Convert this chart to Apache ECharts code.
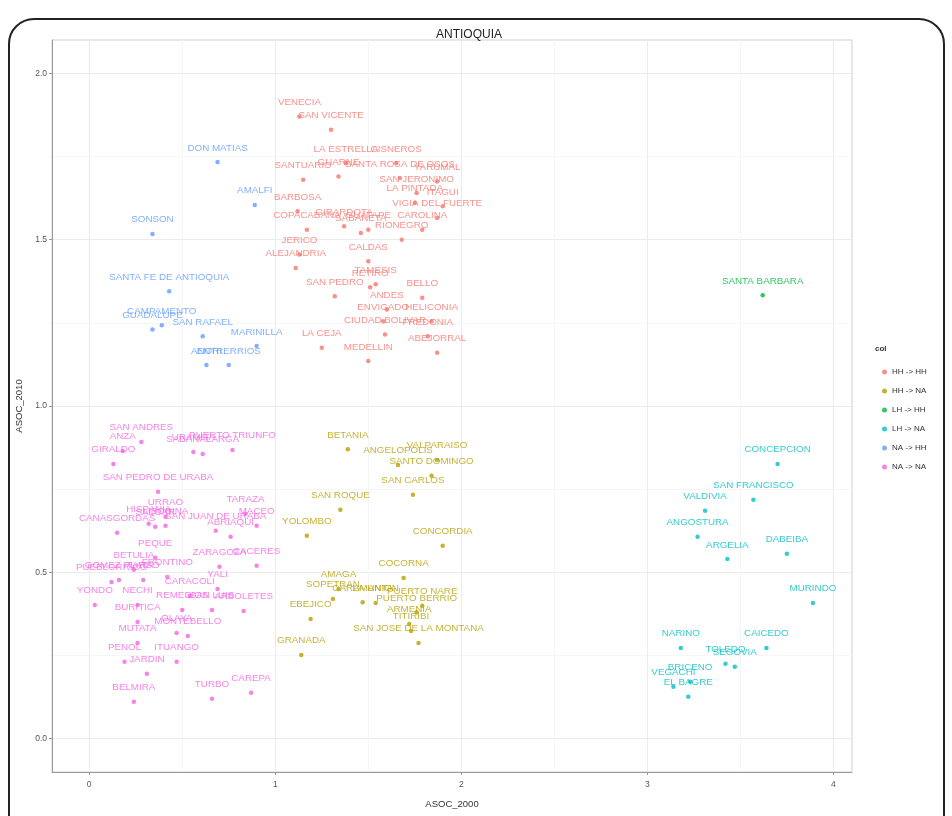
<!DOCTYPE html>
<html lang="en">
<head>
<meta charset="UTF-8">
<title>ANTIOQUIA</title>
<script src="https://cdn.jsdelivr.net/npm/echarts@6/dist/echarts.min.js"></script>
<style>
  html, body { margin: 0; padding: 0; background: #fff; }
  #frame { position: absolute; left: 8px; top: 18px; width: 937px; height: 830px; border: 2px solid #222; border-radius: 26px; box-sizing: border-box; }
  #main { position: absolute; left: 0; top: 0; width: 952px; height: 816px; }
</style>
</head>
<body>
<div id="frame"></div>
<div id="main"></div>
<script>
// [municipio, ASOC_2000, ASOC_2010]
const hhToHh = [
  ['VENECIA', 1.13, 1.87], ['SAN VICENTE', 1.30, 1.83], ['SANTUARIO', 1.15, 1.68],
  ['GUARNE', 1.34, 1.69], ['LA ESTRELLA', 1.38, 1.73], ['CISNEROS', 1.65, 1.73],
  ['SANTA ROSA DE OSOS', 1.67, 1.685], ['YARUMAL', 1.87, 1.675], ['SAN JERONIMO', 1.76, 1.64],
  ['LA PINTADA', 1.75, 1.61], ['ITAGUI', 1.90, 1.60], ['VIGIA DEL FUERTE', 1.87, 1.565],
  ['CAROLINA', 1.79, 1.53], ['RIONEGRO', 1.68, 1.50], ['BARBOSA', 1.12, 1.585],
  ['COPACABANA', 1.17, 1.53], ['GIRARDOTA', 1.37, 1.54], ['SABANETA', 1.46, 1.52],
  ['GUATAPE', 1.50, 1.53], ['JERICO', 1.13, 1.455], ['ALEJANDRIA', 1.11, 1.415],
  ['CALDAS', 1.50, 1.435], ['RETIRO', 1.51, 1.357], ['TAMESIS', 1.54, 1.366],
  ['SAN PEDRO', 1.32, 1.33], ['BELLO', 1.79, 1.325], ['ANDES', 1.60, 1.29],
  ['ENVIGADO', 1.58, 1.255], ['HELICONIA', 1.84, 1.255], ['CIUDAD BOLIVAR', 1.59, 1.215],
  ['FREDONIA', 1.82, 1.21], ['LA CEJA', 1.25, 1.175], ['MEDELLIN', 1.50, 1.135],
  ['ABEJORRAL', 1.87, 1.16]
];
const hhToNa = [
  ['BETANIA', 1.39, 0.87], ['ANGELOPOLIS', 1.66, 0.823], ['VALPARAISO', 1.87, 0.838],
  ['SANTO DOMINGO', 1.84, 0.79], ['SAN CARLOS', 1.74, 0.733], ['SAN ROQUE', 1.35, 0.688],
  ['YOLOMBO', 1.17, 0.61], ['CONCORDIA', 1.90, 0.58], ['COCORNA', 1.69, 0.483],
  ['AMAGA', 1.34, 0.45], ['SOPETRAN', 1.31, 0.42], ['CARAMANTA', 1.47, 0.41],
  ['LA UNION', 1.54, 0.408], ['PUERTO NARE', 1.79, 0.40], ['PUERTO BERRIO', 1.76, 0.38],
  ['ARMENIA', 1.72, 0.345], ['TITIRIBI', 1.73, 0.324], ['SAN JOSE DE LA MONTANA', 1.77, 0.288],
  ['EBEJICO', 1.19, 0.36], ['GRANADA', 1.14, 0.252]
];
const lhToHh = [
  ['SANTA BARBARA', 3.62, 1.333]
];
const lhToNa = [
  ['CONCEPCION', 3.70, 0.826], ['SAN FRANCISCO', 3.57, 0.718], ['VALDIVIA', 3.31, 0.685],
  ['ANGOSTURA', 3.27, 0.607], ['ARGELIA', 3.43, 0.54], ['DABEIBA', 3.75, 0.556],
  ['MURINDO', 3.89, 0.408], ['NARINO', 3.18, 0.273], ['CAICEDO', 3.64, 0.273],
  ['TOLEDO', 3.42, 0.225], ['SEGOVIA', 3.47, 0.216], ['BRICENO', 3.23, 0.171],
  ['VEGACHI', 3.14, 0.156], ['EL BAGRE', 3.22, 0.126]
];
const naToHh = [
  ['DON MATIAS', 0.69, 1.733], ['AMALFI', 0.89, 1.604], ['SONSON', 0.34, 1.517],
  ['SANTA FE DE ANTIOQUIA', 0.43, 1.345], ['GUADALUPE', 0.34, 1.23], ['CAMPAMENTO', 0.39, 1.243],
  ['SAN RAFAEL', 0.61, 1.21], ['MARINILLA', 0.90, 1.18], ['ANORI', 0.63, 1.123],
  ['ENTRERRIOS', 0.75, 1.123]
];
const naToNa = [
  ['SAN ANDRES', 0.28, 0.892], ['ANZA', 0.18, 0.865], ['GIRALDO', 0.13, 0.826],
  ['URAMITA', 0.56, 0.862], ['SABANALARGA', 0.61, 0.856], ['PUERTO TRIUNFO', 0.77, 0.868],
  ['SAN PEDRO DE URABA', 0.37, 0.742], ['CANASGORDAS', 0.15, 0.619], ['URRAO', 0.41, 0.667],
  ['HISPANIA', 0.32, 0.646], ['SALGAR', 0.355, 0.637], ['LIBORINA', 0.41, 0.64],
  ['SAN JUAN DE URABA', 0.68, 0.625], ['TARAZA', 0.84, 0.676], ['MACEO', 0.90, 0.64],
  ['ABRIAQUI', 0.76, 0.607], ['PEQUE', 0.355, 0.544], ['PUEBLORRICO', 0.12, 0.471],
  ['GOMEZ PLATA', 0.16, 0.477], ['BETULIA', 0.24, 0.508], ['TARSO', 0.29, 0.477],
  ['FRONTINO', 0.42, 0.486], ['ZARAGOZA', 0.70, 0.517], ['CACERES', 0.90, 0.52],
  ['YALI', 0.69, 0.45], ['CARACOLI', 0.54, 0.429], ['REMEDIOS', 0.50, 0.387],
  ['SAN LUIS', 0.66, 0.387], ['ARBOLETES', 0.83, 0.384], ['YONDO', 0.03, 0.402],
  ['NECHI', 0.26, 0.402], ['BURITICA', 0.26, 0.351], ['OLAYA', 0.47, 0.318],
  ['MONTEBELLO', 0.53, 0.309], ['MUTATA', 0.26, 0.288], ['PENOL', 0.19, 0.231],
  ['ITUANGO', 0.47, 0.231], ['JARDIN', 0.31, 0.195], ['BELMIRA', 0.24, 0.111],
  ['TURBO', 0.66, 0.12], ['CAREPA', 0.87, 0.138]
];

const groupNames = ['HH -> HH', 'HH -> NA', 'LH -> HH', 'LH -> NA', 'NA -> HH', 'NA -> NA'];
const groupColors = ['#F8766D', '#B79F00', '#00BA38', '#00BFC4', '#619CFF', '#F564E3'];
const groupData = [hhToHh, hhToNa, lhToHh, lhToNa, naToHh, naToNa];

const xTicks = [0, 1, 2, 3, 4];
const xMinor = [0.5, 1.5, 2.5, 3.5];
const yTicks = [0, 0.5, 1, 1.5, 2];
const yMinor = [0.25, 0.75, 1.25, 1.75];

const font = 'Liberation Sans, Arial, sans-serif';
const chart = echarts.init(document.getElementById('main'));

const series = groupNames.map((name, i) => ({
    name: name,
    type: 'scatter',
    symbolSize: 4.5,
    itemStyle: { color: groupColors[i] },
    label: {
        show: true,
        position: 'top',
        distance: 7,
        formatter: '{b}',
        color: groupColors[i],
        fontSize: 9.8,
        fontFamily: font
    },
    emphasis: { disabled: true },
    data: groupData[i].map(d => ({ name: d[0], value: [d[1], d[2]] }))
}));

const mainX = {
    type: 'value', min: -0.2, max: 4.1,
    name: 'ASOC_2000', nameLocation: 'middle', nameGap: 27,
    nameTextStyle: { fontSize: 9.5, color: '#333', fontFamily: font },
    axisLine: { show: true, onZero: false, lineStyle: { color: '#999' } },
    axisTick: { show: true, length: 3, customValues: xTicks, lineStyle: { color: '#999' } },
    axisLabel: { customValues: xTicks, fontSize: 8.5, color: '#555', margin: 8, fontFamily: font },
    splitLine: { show: true, lineStyle: { color: '#ececec' } }
};
const minorX = {
    type: 'value', min: -0.2, max: 4.1,
    axisLine: { show: false }, axisLabel: { show: false },
    axisTick: { show: false, customValues: xMinor },
    splitLine: { show: true, lineStyle: { color: '#f6f6f6' } }
};
const mainY = {
    type: 'value', min: -0.1, max: 2.1,
    name: 'ASOC_2010', nameLocation: 'middle', nameGap: 27,
    nameTextStyle: { fontSize: 9.5, color: '#333', fontFamily: font },
    axisLine: { show: true, onZero: false, lineStyle: { color: '#999' } },
    axisTick: { show: true, length: 3, customValues: yTicks, lineStyle: { color: '#999' } },
    axisLabel: { customValues: yTicks, fontSize: 8.5, color: '#555', margin: 5, fontFamily: font,
        formatter: v => v.toFixed(1) },
    splitLine: { show: true, lineStyle: { color: '#ececec' } }
};
const minorY = {
    type: 'value', min: -0.1, max: 2.1,
    axisLine: { show: false }, axisLabel: { show: false },
    axisTick: { show: false, customValues: yMinor },
    splitLine: { show: true, lineStyle: { color: '#f6f6f6' } }
};

chart.setOption({
    animation: false,
    backgroundColor: 'transparent',
    title: [
        { text: 'ANTIOQUIA', left: 431, top: 24, textStyle: { fontSize: 12, fontWeight: 'normal', color: '#222', fontFamily: font } },
        { text: 'col', left: 870, top: 340, textStyle: { fontSize: 8, fontWeight: 'bold', color: '#333', fontFamily: font } }
    ],
    grid: { left: 52, right: 100, top: 40, bottom: 44, show: true, borderColor: '#cfcfcf', borderWidth: 1, backgroundColor: '#fff' },
    xAxis: [mainX, minorX],
    yAxis: [mainY, minorY],
    legend: {
        orient: 'vertical', left: 877, top: 362,
        itemWidth: 5, itemHeight: 5, itemGap: 9, icon: 'circle',
        textStyle: { fontSize: 8, color: '#333', fontFamily: font, lineHeight: 10 },
        data: groupNames
    },
    series: series
});
</script>
</body>
</html>
